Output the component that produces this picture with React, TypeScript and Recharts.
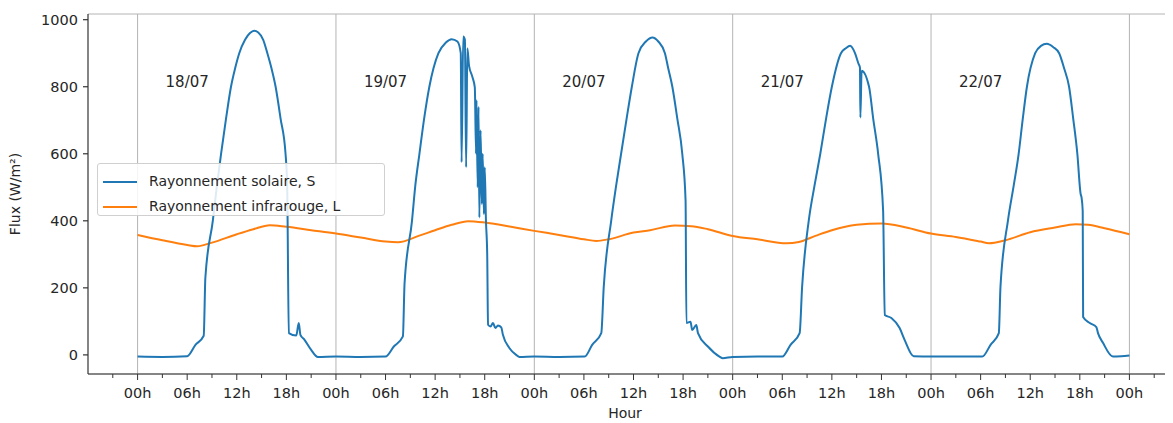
import React from 'react';
import {
  LineChart,
  Line,
  XAxis,
  YAxis,
  CartesianGrid,
  ReferenceLine,
  ReferenceDot,
  Legend,
} from 'recharts';

// ---- data ----
// Solar radiation S (W/m²): [hour since 18/07 00h, value]
const solarHours: number[] = [
  // 18/07
  0, 3, 6, 7, 8, 8.2, 9.1, 9.6, 10.1, 10.7, 11.3, 11.8, 12.3, 13.0, 13.6, 14.1, 14.6, 15.2, 15.7, 16.2, 16.7, 17.3, 17.9, 18.1, 18.3, 19.2, 19.5, 19.7, 20.2, 21, 21.8,
  // 19/07
  24, 27, 30, 31, 32.1, 32.3, 33.2, 33.6, 34.1, 34.7, 35.3, 35.8, 36.4, 37.3, 38, 38.7, 39.1, 39.2, 39.4, 39.6, 39.75, 39.9, 40.1, 40.5, 40.8,
  40.95, 41.0, 41.15, 41.25, 41.35, 41.5, 41.65, 41.75, 41.9, 42.0, 42.15, 42.3, 42.4, 42.7, 43.0, 43.3, 43.6, 44.0, 44.2, 45, 45.8, 46.2,
  // 20/07
  48, 51, 54.1, 55, 56.1, 56.4, 57.3, 57.9, 58.5, 59.2, 59.8, 60.6, 61.5, 62.3, 63, 63.8, 64.2, 64.7, 65.3, 65.9, 66.3, 66.4, 66.9, 67.1, 67.6, 67.8, 69, 70.4, 70.8,
  // 21/07
  72, 75, 78, 79, 80.1, 80.4, 81.2, 81.9, 82.6, 83.3, 84.0, 85.1, 85.7, 86.2, 86.8, 87.2, 87.4, 87.45, 87.6, 88.5, 89.0, 89.6, 90.2, 90.4, 91.2, 92.2, 92.8, 93.9,
  // 22/07
  96, 99, 102.2, 103.2, 104.2, 104.4, 105.3, 106.0, 106.6, 107.1, 107.6, 108.6, 109.3, 110, 110.8, 111.5, 112.1, 112.7, 113.2, 113.7, 114.1, 114.2, 114.35, 114.4,
  115.2, 116, 116.2, 116.8, 118, 119, 120,
];
const solarValues: number[] = [
  -5, -6, -4, 30, 57, 230, 400, 505, 600, 705, 800, 855, 900, 940, 960, 967, 962, 940, 900, 855, 800, 705, 600, 500, 65, 58, 95, 60, 45, 15, -6,
  -5, -6, -5, 25, 55, 213, 400, 505, 600, 710, 800, 855, 900, 932, 942, 935, 900, 575, 950, 940, 560, 915, 863, 830, 798,
  600, 760, 500, 740, 410, 670, 450, 600, 420, 560, 400, 300, 90, 85, 95, 80, 88, 82, 60, 20, 0, -6,
  -5, -6, -5, 30, 65, 203, 400, 505, 600, 710, 800, 900, 935, 947, 935, 900, 855, 800, 705, 600, 461, 95, 99, 74, 89, 65, 25, -5, -10,
  -6, -5, -5, 30, 65, 203, 400, 505, 600, 705, 800, 900, 915, 922, 900, 870, 857, 708, 848, 800, 705, 600, 431, 119, 110, 80, 45, -4,
  -5, -5, -5, 30, 65, 203, 400, 505, 600, 705, 800, 900, 922, 928, 918, 900, 855, 800, 705, 600, 480, 471, 430, 113,
  95, 83, 65, 36, -5, -4, -2,
];

// Infrared radiation L (W/m²)
const irHours: number[] = [
  0, 3, 6, 7.2, 9, 12, 14, 16, 18, 21, 24, 27, 30, 31.5, 34, 36, 38, 40, 42, 45, 48, 51, 54, 55.5, 57, 60, 62, 65, 67, 69,
  72, 75, 78.5, 80, 82, 84, 87, 90, 93, 96, 99, 102, 103, 105, 108, 111, 113.5, 115, 117, 120,
];
const irValues: number[] = [
  358, 342, 328, 324, 335, 360, 375, 387, 382, 372, 362, 350, 338, 336, 355, 372, 388, 399, 395, 383, 370, 358, 345, 340, 345, 365, 372, 386, 384, 375,
  355, 345, 333, 337, 355, 372, 388, 392, 380, 362, 352, 338, 333, 342, 366, 380, 390, 388, 378, 360,
];

const dayLabels: string[] = ['18/07', '19/07', '20/07', '21/07', '22/07'];
const yTicks: number[] = [0, 200, 400, 600, 800, 1000];
const xTicks: number[] = [];
for (let h = -3; h <= 123; h += 3) xTicks.push(h);
const dayLines: number[] = [0, 24, 48, 72, 96, 120];

const solarData = solarHours.map((h, i) => ({ h, S: solarValues[i] }));
const irData = irHours.map((h, i) => ({ h, L: irValues[i] }));

const FONT = '"DejaVu Sans", sans-serif';
const TEXT = '#262626';
const SPINE = '#333333';
const GRID = '#b4b4b4';
const BLUE = '#1f77b4';
const ORANGE = '#ff7f0e';

const hourLabel = (v: number) => {
  const m = ((v % 24) + 24) % 24;
  return (m < 10 ? '0' : '') + m + 'h';
};

const XTick = (props: any) => {
  const { x, y, payload } = props;
  const v = payload.value as number;
  const major = v % 6 === 0;
  return (
    <g>
      <line x1={x} x2={x} y1={y} y2={y + (major ? 6 : 4)} stroke={SPINE} strokeWidth={1} />
      {major && (
        <text x={x} y={y + 19} textAnchor="middle" dominantBaseline="central" fill={TEXT} fontSize={14.5} fontFamily={FONT}>
          {hourLabel(v)}
        </text>
      )}
    </g>
  );
};

const YLabel = (props: any) => {
  const { viewBox } = props;
  const cx = viewBox.x + 7;
  const cy = viewBox.y + viewBox.height / 2;
  return (
    <text x={cx} y={cy} transform={`rotate(-90 ${cx} ${cy})`} textAnchor="middle" dominantBaseline="central" fill={TEXT} fontSize={14} fontFamily={FONT}>
      Flux (W/m²)
    </text>
  );
};

const XLabel = (props: any) => {
  const { viewBox } = props;
  const cx = 617;
  const cy = viewBox.y + 39;
  return (
    <text x={cx} y={cy} textAnchor="middle" dominantBaseline="central" fill={TEXT} fontSize={14} fontFamily={FONT}>
      Hour
    </text>
  );
};

const LegendBox = () => (
  <div
    style={{
      width: 288,
      height: 53,
      border: '1px solid #d0d0d0',
      borderRadius: 3,
      background: 'rgba(255,255,255,0.85)',
      fontFamily: FONT,
      fontSize: 14,
      color: TEXT,
      boxSizing: 'border-box',
      padding: '5px 0 0 5px',
    }}
  >
    {[
      { name: 'Rayonnement solaire, S', color: BLUE },
      { name: 'Rayonnement infrarouge, L', color: ORANGE },
    ].map((it) => (
      <div key={it.name} style={{ display: 'flex', alignItems: 'center', height: 25 }}>
        <span style={{ display: 'inline-block', width: 34, height: 2, background: it.color, marginRight: 12 }} />
        <span style={{ lineHeight: '25px', whiteSpace: 'nowrap' }}>{it.name}</span>
      </div>
    ))}
  </div>
);

export default function App() {
  return (
    <div style={{ width: 1165, height: 415, overflow: 'hidden' }}>
      <LineChart width={1175} height={415} margin={{ top: 6, right: 4, bottom: 0, left: 0 }}>
        <CartesianGrid vertical={false} stroke={GRID} strokeWidth={1} />
        <XAxis
          xAxisId="main"
          dataKey="h"
          type="number"
          domain={[-6, 126]}
          ticks={xTicks}
          interval={0}
          allowDataOverflow
          height={49}
          stroke={SPINE}
          strokeWidth={1.2}
          tickLine={false}
          tickSize={0}
          tickMargin={0}
          tick={<XTick />}
          label={<XLabel />}
        />
        <XAxis xAxisId="top" orientation="top" type="number" domain={[-6, 126]} height={0} tick={false} tickLine={false} stroke={SPINE} strokeWidth={1.5} />
        <YAxis
          yAxisId="main"
          type="number"
          domain={[-57, 1017]}
          ticks={yTicks}
          interval={0}
          allowDataOverflow
          width={80}
          stroke={SPINE}
          strokeWidth={1.2}
          tickSize={5}
          tickMargin={5}
          tick={{ fill: TEXT, fontSize: 14.5, fontFamily: FONT }}
          label={<YLabel />}
        />
        <YAxis yAxisId="right" orientation="right" type="number" domain={[-57, 1017]} width={0} tick={false} tickLine={false} stroke={SPINE} />
        {dayLines.map((d) => (
          <ReferenceLine key={d} x={d} xAxisId="main" yAxisId="main" stroke={GRID} strokeWidth={1} />
        ))}
        {dayLabels.map((lab, k) => (
          <ReferenceDot
            key={lab}
            x={k * 24 + 6}
            y={815}
            xAxisId="main"
            yAxisId="main"
            r={0}
            fill="none"
            stroke="none"
            label={{ value: lab, position: 'center', fill: TEXT, fontSize: 15, fontFamily: FONT }}
          />
        ))}
        <Line
          xAxisId="main"
          yAxisId="main"
          data={irData}
          dataKey="L"
          type="monotone"
          stroke={ORANGE}
          strokeWidth={2}
          dot={false}
          isAnimationActive={false}
          name="Rayonnement infrarouge, L"
        />
        <Line
          xAxisId="main"
          yAxisId="main"
          data={solarData}
          dataKey="S"
          type="monotone"
          stroke={BLUE}
          strokeWidth={2}
          dot={false}
          isAnimationActive={false}
          name="Rayonnement solaire, S"
        />
        <Legend
          layout="vertical"
          align="center"
          verticalAlign="middle"
          content={<LegendBox />}
          wrapperStyle={{ left: 89, top: 155, width: 290, height: 56 }}
        />
      </LineChart>
    </div>
  );
}
